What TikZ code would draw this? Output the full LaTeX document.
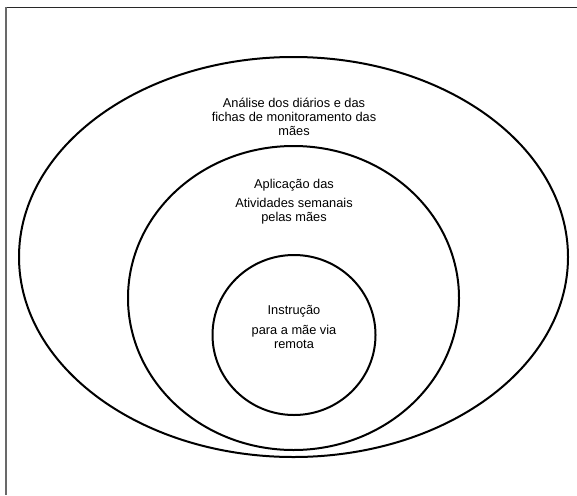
\documentclass[tikz,border=0pt]{standalone}
\usepackage{fontspec}
\setmainfont{Liberation Sans}
\usepackage{xcolor}
\usetikzlibrary{shapes.geometric}
\definecolor{frametop}{RGB}{40,40,40}
\definecolor{frameleft}{RGB}{105,105,105}

\tikzset{
    ring/.style={draw=black, line width=2pt, ellipse, inner sep=0pt},
    ringtext/.style={align=center, font=\fontsize{12.8}{14}\selectfont, inner sep=0pt}
}

\begin{document}
\begin{tikzpicture}[x=1pt, y=1pt]

\useasboundingbox (0,0) rectangle (577,-495);

% frame (only top and left edges visible)
\draw[frametop, line width=1.5pt] (5,-7.5) -- (577,-7.5);
\draw[frameleft, line width=2pt] (6,-7) -- (6,-495);

% nested rings
\node[ring, minimum width=549pt, minimum height=400pt] (outer) at (293.5,-257) {};
\node[ring, minimum width=331pt, minimum height=304pt] (middle) at (293.5,-298) {};
\node[ring, minimum width=163pt, minimum height=160pt] (inner) at (294,-335) {};

% labels
\node[ringtext] (outertext) at (294,-116.5)
{
Análise dos diários e das \\
fichas de monitoramento das \\
mães
};

\node[ringtext] (middletext) at (294,-201.5)
{
Aplicação das \\[4.5pt]
Atividades semanais \\
pelas mães
};

\node[ringtext] (innertext) at (294,-327)
{
Instrução \\[6pt]
para a mãe via \\
remota
};

\end{tikzpicture}
\end{document}
